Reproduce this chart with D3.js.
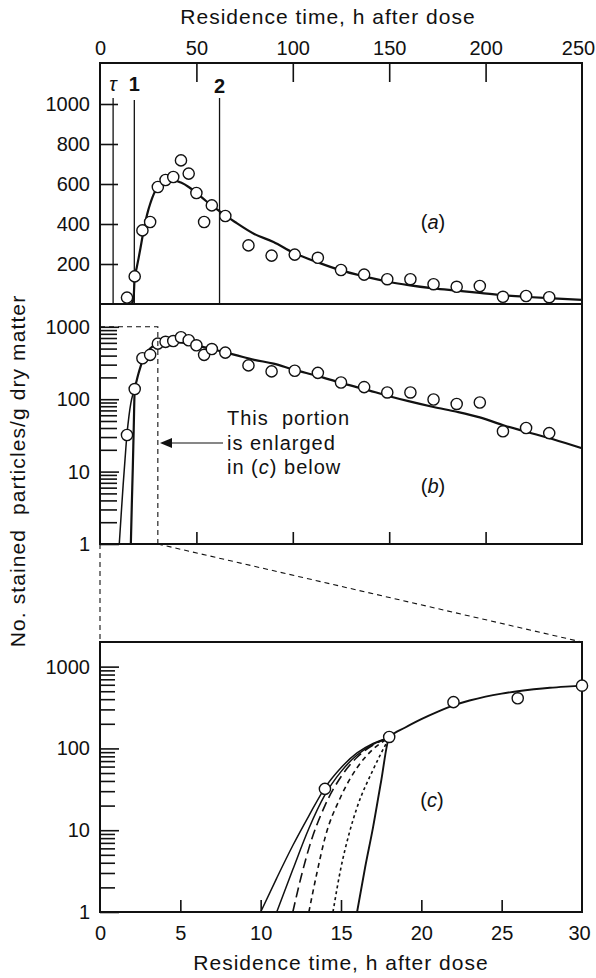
<!DOCTYPE html>
<html><head><meta charset="utf-8">
<script src="https://cdn.jsdelivr.net/npm/d3@7"></script>
<style>
body{margin:0;background:#fff}
svg text{font-family:"Liberation Sans",Arial,sans-serif;fill:#111}
</style></head><body>
<svg id="chart" width="596" height="978"></svg>
<script>
// Observed counts (stained particles per g dry matter) against residence time (h)
const obsTime  = [14,18,22,26,30,34,38,42,46,50,54,58,65,77,89,101,113,125,137,149,161,173,185,197,209,221,233];
const obsCount = [32,138,368,410,585,620,635,718,652,555,410,493,440,293,242,247,231,170,147,124,124,99,86,90,36,40,34];

// Fitted curve
const fitTime  = [16,16.5,17,17.5,18,19,20,21,22,23,24,25,26,27,28,29,30,33,36,39,42,46,50,55,60,65,70,80,90,100,113,125,137,150,160,173,185,197,210,222,235,250];
const fitCount = [1,3.5,11,40,135,180,228,280,335,385,430,468,500,528,552,570,585,608,618,617,607,585,555,515,478,443,410,350,310,258,208,168,138,110,94,78,67,56,43,35,28,21];

// Alternative onset curves, joining the fit at 18 h
const onsetATime = [10,11,12,13,14,15,16,17,18];
const onsetACount = [1,2.6,6.5,15,33,58,88,115,135];
const onsetBTime = [11,12,13,14,15,16,17,18];
const onsetBCount = [1,3.3,10.5,27,52,83,112,135];
const onsetCTime = [12,12.5,13,14,15,16,17,18];
const onsetCCount = [1,2.6,6,20,45,78,110,135];
const onsetDTime = [13,13.5,14,15,16,17,18];
const onsetDCount = [1,3,8,26,58,98,135];
const onsetETime = [14.5,15,15.5,16,17,18];
const onsetECount = [1,3.5,9,19,55,135];

// Marker lines in (a)
const markerTime = [6.8, 17.8, 62];
const markerLabel = ["τ", "1", "2"];

// Tick values
const timeTicksTop = [0,50,100,150,200,250];
const timeTicksInner = [50,100,150,200];
const linTicks = [200,400,600,800,1000];
const logMajor = [1,10,100,1000];
const timeTicksC = [0,5,10,15,20,25,30];

const svg = d3.select("#chart");
const ink = "#111";

const xT = d3.scaleLinear([0,250],[100,582]);
const yA = d3.scaleLinear([0,1205],[304,63]);
const yB = d3.scaleLog([1,2000],[544,305]);
const xC = d3.scaleLinear([0,30],[100,582]);
const yC = d3.scaleLog([1,2000],[912,642]);

const logMinor = [];
logMajor.forEach(d => { for (let k=1;k<=9;k++) { if (d*k<=1000) logMinor.push(d*k); } });

const fmt = d3.format("d");

function styleAxis(g, fs){
  g.select(".domain").remove();
  g.selectAll(".tick line").attr("stroke", ink).attr("stroke-width", 1.6);
  g.selectAll(".tick text").attr("font-size", fs).attr("fill", ink);
}

// ----- frames -----
function frame(x0,y0,x1,y1){
  svg.append("rect").attr("x",x0).attr("y",y0).attr("width",x1-x0).attr("height",y1-y0)
    .attr("fill","none").attr("stroke",ink).attr("stroke-width",2);
}
frame(100,63,582,304);
frame(100,304,582,544);
frame(100,642,582,912);

// ----- top time axis -----
svg.append("g").attr("transform","translate(0,63)")
  .call(d3.axisTop(xT).tickValues(timeTicksTop).tickSize(-19).tickPadding(8).tickFormat(fmt))
  .call(g => styleAxis(g, 20))
  .call(g => g.selectAll(".tick line").filter(d => d===0 || d===250).remove())
  .call(g => g.selectAll(".tick text").filter(d => d===250).attr("dx",-4));

svg.append("text").attr("x",328).attr("y",24).attr("text-anchor","middle")
  .attr("font-size",21).attr("letter-spacing",1).text("Residence time, h after dose");

// ----- panel (a): linear -----
svg.append("g").attr("transform","translate(100,0)")
  .call(d3.axisLeft(yA).tickValues(linTicks).tickSize(-18).tickPadding(10).tickFormat(fmt))
  .call(g => styleAxis(g, 20));

markerTime.forEach((t,i) => {
  const top = i===1 ? 100 : 98;
  svg.append("line").attr("x1",xT(t)).attr("x2",xT(t)).attr("y1",top).attr("y2",304)
    .attr("stroke",ink).attr("stroke-width",1.3);
  const lab = svg.append("text").attr("x",xT(t)).attr("y",i===2?93:91).attr("text-anchor","middle")
    .attr("font-size",20).text(markerLabel[i]);
  if (i===0) lab.attr("font-family","Liberation Serif, serif").attr("font-style","italic");
  else lab.attr("font-weight","bold");
});

const lineA = d3.line().x((d,i)=>xT(fitTime[i])).y((d,i)=>yA(fitCount[i])).curve(d3.curveMonotoneX);
svg.append("path").attr("d",lineA(fitTime)).attr("fill","none").attr("stroke",ink).attr("stroke-width",2.2);

svg.append("g").selectAll("circle").data(obsTime).join("circle")
  .attr("cx",(d)=>xT(d)).attr("cy",(d,i)=>yA(obsCount[i])).attr("r",5.6)
  .attr("fill","#fff").attr("stroke",ink).attr("stroke-width",1.4);

const labA = svg.append("text").attr("x",433).attr("y",229).attr("text-anchor","middle").attr("font-size",20);
labA.append("tspan").text("(");
labA.append("tspan").attr("font-style","italic").text("a");
labA.append("tspan").text(")");

// ----- panel (b): log -----
const axB = svg.append("g").attr("transform","translate(100,0)")
  .call(d3.axisLeft(yB).tickValues(logMinor).tickSize(-17).tickPadding(10)
        .tickFormat(d => logMajor.includes(d) ? fmt(d) : ""))
  .call(g => styleAxis(g, 20));
axB.selectAll(".tick line").filter(d => logMajor.includes(d)).attr("x2",19);

svg.append("g").attr("transform","translate(0,544)")
  .call(d3.axisBottom(xT).tickValues(timeTicksInner).tickSize(-12).tickFormat(""))
  .call(g => styleAxis(g, 20));

const lineB = d3.line().x((d,i)=>xT(fitTime[i])).y((d,i)=>yB(fitCount[i])).curve(d3.curveMonotoneX);
svg.append("path").attr("d",lineB(fitTime)).attr("fill","none").attr("stroke",ink).attr("stroke-width",2.2);
const lineBA = d3.line().x((d,i)=>xT(onsetATime[i])).y((d,i)=>yB(onsetACount[i])).curve(d3.curveMonotoneX);
svg.append("path").attr("d",lineBA(onsetATime)).attr("fill","none").attr("stroke",ink).attr("stroke-width",1.5);

svg.append("g").selectAll("circle").data(obsTime).join("circle")
  .attr("cx",(d)=>xT(d)).attr("cy",(d,i)=>yB(obsCount[i])).attr("r",5.6)
  .attr("fill","#fff").attr("stroke",ink).attr("stroke-width",1.4);

// enlarged region outline and connectors
const dash = "5,4";
svg.append("path")
  .attr("d",`M${xT(0)},${yB(1000)}H${xT(30)}V${yB(1)}`)
  .attr("fill","none").attr("stroke",ink).attr("stroke-width",1.1).attr("stroke-dasharray",dash);
svg.append("line").attr("x1",xT(0)).attr("y1",yB(1)).attr("x2",xC(0)).attr("y2",642)
  .attr("stroke",ink).attr("stroke-width",1.1).attr("stroke-dasharray",dash);
svg.append("line").attr("x1",xT(30)).attr("y1",yB(1)).attr("x2",xC(30)).attr("y2",642)
  .attr("stroke",ink).attr("stroke-width",1.1).attr("stroke-dasharray",dash);

// note with arrow
svg.append("line").attr("x1",170).attr("y1",443).attr("x2",223).attr("y2",443)
  .attr("stroke",ink).attr("stroke-width",1.1);
svg.append("path").attr("d","M160,443L172,438L172,448Z").attr("fill",ink);
const note = svg.append("text").attr("font-size",20).attr("letter-spacing",1);
note.append("tspan").attr("x",227).attr("y",425).attr("xml:space","preserve").text("This  portion");
note.append("tspan").attr("x",227).attr("y",450).text("is enlarged");
note.append("tspan").attr("x",227).attr("y",474).text("in (");
note.append("tspan").attr("font-style","italic").text("c");
note.append("tspan").text(") below");

const labB = svg.append("text").attr("x",433).attr("y",493).attr("text-anchor","middle").attr("font-size",20);
labB.append("tspan").text("(");
labB.append("tspan").attr("font-style","italic").text("b");
labB.append("tspan").text(")");

// y title
svg.append("text").attr("transform","translate(25,471) rotate(-90)").attr("text-anchor","middle")
  .attr("font-size",21).attr("letter-spacing",1.1).attr("xml:space","preserve")
  .text("No. stained  particles/g dry matter");

// ----- panel (c): enlarged onset -----
const axC = svg.append("g").attr("transform","translate(100,0)")
  .call(d3.axisLeft(yC).tickValues(logMinor).tickSize(-15).tickPadding(10)
        .tickFormat(d => logMajor.includes(d) ? fmt(d) : ""))
  .call(g => styleAxis(g, 20));
axC.selectAll(".tick line").filter(d => logMajor.includes(d)).attr("x2",19);

svg.append("g").attr("transform","translate(0,912)")
  .call(d3.axisBottom(xC).tickValues(timeTicksC).tickSize(-12).tickPadding(14).tickFormat(fmt))
  .call(g => styleAxis(g, 20))
  .call(g => g.selectAll(".tick line").filter(d => d===0 || d===30).remove())
  .call(g => g.selectAll(".tick text").filter(d => d===30).attr("dx",-3));

svg.append("text").attr("x",341).attr("y",970).attr("text-anchor","middle")
  .attr("font-size",21).attr("letter-spacing",1).text("Residence time, h after dose");

const cLine = (ts, cs) => d3.line().x((d,i)=>xC(ts[i])).y((d,i)=>yC(cs[i])).curve(d3.curveMonotoneX)(ts);
const fitCIdx = fitTime.map((t,i)=>i).filter(i => fitTime[i] <= 30);
const fitCT = fitCIdx.map(i=>fitTime[i]), fitCC = fitCIdx.map(i=>fitCount[i]);
svg.append("path").attr("d",cLine(fitCT,fitCC)).attr("fill","none").attr("stroke",ink).attr("stroke-width",1.9);
svg.append("path").attr("d",cLine(onsetATime,onsetACount)).attr("fill","none").attr("stroke",ink).attr("stroke-width",1.5);
svg.append("path").attr("d",cLine(onsetBTime,onsetBCount)).attr("fill","none").attr("stroke",ink).attr("stroke-width",1.5);
svg.append("path").attr("d",cLine(onsetCTime,onsetCCount)).attr("fill","none").attr("stroke",ink).attr("stroke-width",1.6).attr("stroke-dasharray","10,5");
svg.append("path").attr("d",cLine(onsetDTime,onsetDCount)).attr("fill","none").attr("stroke",ink).attr("stroke-width",1.6).attr("stroke-dasharray","5,4");
svg.append("path").attr("d",cLine(onsetETime,onsetECount)).attr("fill","none").attr("stroke",ink).attr("stroke-width",1.6).attr("stroke-dasharray","3,3");

const obsCIdx = obsTime.map((t,i)=>i).filter(i => obsTime[i] <= 30);
svg.append("g").selectAll("circle").data(obsCIdx).join("circle")
  .attr("cx",i=>xC(obsTime[i])).attr("cy",i=>yC(obsCount[i])).attr("r",5.6)
  .attr("fill","#fff").attr("stroke",ink).attr("stroke-width",1.4);

const labC = svg.append("text").attr("x",432).attr("y",807).attr("text-anchor","middle").attr("font-size",20);
labC.append("tspan").text("(");
labC.append("tspan").attr("font-style","italic").text("c");
labC.append("tspan").text(")");
</script>
</body></html>
